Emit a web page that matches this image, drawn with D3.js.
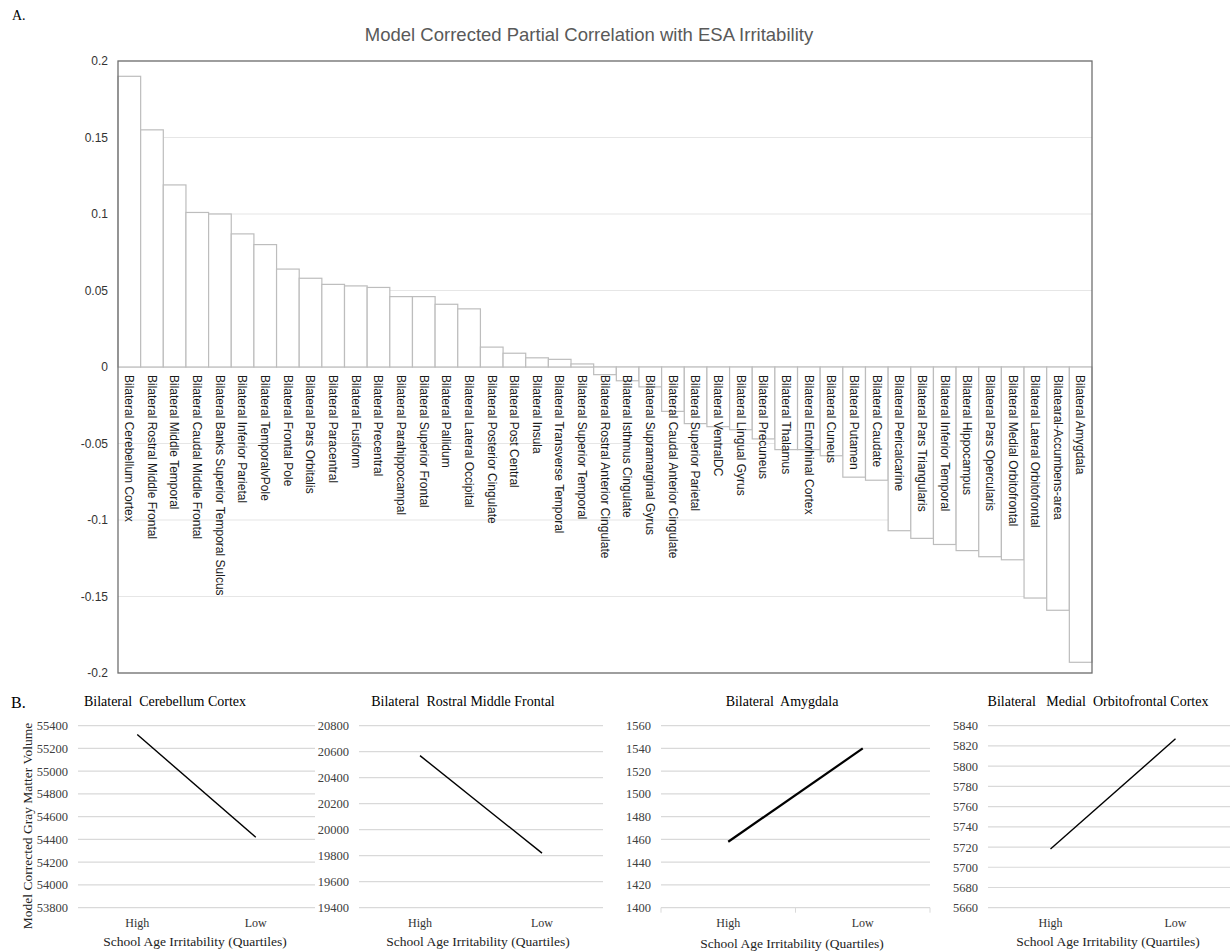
<!DOCTYPE html>
<html>
<head>
<meta charset="utf-8">
<script src="https://cdn.jsdelivr.net/npm/d3@7/dist/d3.min.js"></script>
<style>
  body { margin: 0; background: #fff; }
  svg { display: block; }
</style>
</head>
<body>
<svg id="chart" width="1230" height="951"></svg>
<script>
// panel A data
var regions = ["Bilateral Cerebellum Cortex", "Bilateral Rostral Middle Frontal", "Bilateral Middle Temporal",
    "Bilateral Caudal Middle Frontal", "Bilateral Banks Superior Temporal Sulcus", "Bilateral Inferior Parietal",
    "Bilateral TemporalvPole", "Bilateral Frontal Pole", "Bilateral Pars Orbitalis", "Bilateral Paracentral",
    "Bilateral Fusiform", "Bilateral Precentral", "Bilateral Parahippocampal", "Bilateral Superior Frontal",
    "Bilateral Pallidum", "Bilateral Lateral Occipital", "Bilateral Posterior Cingulate", "Bilateral Post Central",
    "Bilateral Insula", "Bilateral Transverse Temporal", "Bilateral Superior Temporal",
    "Bilateral Rostral Anterior Cingulate", "Bilateral Isthmus Cingulate", "Bilateral Supramarginal Gyrus",
    "Bilateral Caudal Anterior Cingulate", "Bilateral Superior Parietal", "Bilateral VentralDC",
    "Bilateral Lingual Gyrus", "Bilateral Precuneus", "Bilateral Thalamus", "Bilateral Entorhinal Cortex",
    "Bilateral Cuneus", "Bilateral Putamen", "Bilateral Caudate", "Bilateral Pericalcarine",
    "Bilateral Pars Triangularis", "Bilateral Inferior Temporal", "Bilateral Hippocampus",
    "Bilateral Pars Opercularis", "Bilateral Medial Orbitofrontal", "Bilateral Lateral Orbitofrontal",
    "Bilatearal-Accumbens-area", "Bilateral Amygdala"];
var correlations = [0.190, 0.155, 0.119, 0.101, 0.100, 0.087, 0.080, 0.064, 0.058, 0.054,
    0.053, 0.052, 0.046, 0.046, 0.041, 0.038, 0.013, 0.009, 0.006, 0.005,
    0.002, -0.005, -0.009, -0.013, -0.029, -0.037, -0.039, -0.041, -0.047, -0.054,
    -0.054, -0.058, -0.072, -0.074, -0.107, -0.112, -0.116, -0.120, -0.124, -0.126,
    -0.151, -0.159, -0.193];
var corrTicks = [0.2, 0.15, 0.1, 0.05, 0, -0.05, -0.1, -0.15, -0.2];

// panel B data
var quartiles = ["High", "Low"];
var panelTitles = ["Bilateral  Cerebellum Cortex", "Bilateral  Rostral Middle Frontal",
    "Bilateral  Amygdala", "Bilateral   Medial  Orbitofrontal Cortex"];
var volumeHigh = [55322, 20570, 1458, 5718];
var volumeLow = [54420, 19820, 1540, 5827];
var volumeTicks = [
    [53800, 54000, 54200, 54400, 54600, 54800, 55000, 55200, 55400],
    [19400, 19600, 19800, 20000, 20200, 20400, 20600, 20800],
    [1400, 1420, 1440, 1460, 1480, 1500, 1520, 1540, 1560],
    [5660, 5680, 5700, 5720, 5740, 5760, 5780, 5800, 5820, 5840]
];

var svg = d3.select("#chart");
var sans = "'Liberation Sans', Arial, sans-serif";
var serif = "'Liberation Serif', 'Times New Roman', serif";

// ---------- A. bar chart ----------
var mA = {left: 118, right: 1092, top: 61, bottom: 673};

var x = d3.scaleBand().domain(regions).range([mA.left, mA.right]).padding(0);
var y = d3.scaleLinear().domain([-0.2, 0.2]).range([mA.bottom, mA.top]);

svg.append("text")
    .attr("x", 12).attr("y", 20)
    .style("font", "14px " + serif)
    .text("A.");

svg.append("text")
    .attr("x", 589).attr("y", 41)
    .attr("text-anchor", "middle")
    .style("font", "18.5px " + sans)
    .style("fill", "#595959")
    .text("Model Corrected Partial Correlation with ESA Irritability");

// grid
svg.append("g")
    .selectAll("line")
    .data(corrTicks)
    .enter().append("line")
    .attr("x1", mA.left).attr("x2", mA.right)
    .attr("y1", function(d) { return y(d); })
    .attr("y2", function(d) { return y(d); })
    .style("stroke", function(d) { return d === 0 ? "#d0d0d0" : "#e6e6e6"; })
    .style("stroke-width", 1.2);

var yAxis = svg.append("g")
    .attr("transform", "translate(" + mA.left + ",0)")
    .call(d3.axisLeft(y).tickValues(corrTicks).tickSize(0).tickPadding(10)
        .tickFormat(function(d) { return String(d); }));
yAxis.select(".domain").remove();
yAxis.selectAll("text")
    .style("font", "12px " + sans)
    .style("fill", "#333");

// bars
svg.append("g")
    .selectAll("rect")
    .data(correlations)
    .enter().append("rect")
    .attr("x", function(d, i) { return x(regions[i]); })
    .attr("width", x.bandwidth())
    .attr("y", function(d) { return y(Math.max(0, d)); })
    .attr("height", function(d) { return Math.abs(y(d) - y(0)); })
    .style("fill", "#fff")
    .style("stroke", "#bdbdbd")
    .style("stroke-width", 1.2);

// rotated category labels
svg.append("g")
    .selectAll("text")
    .data(regions)
    .enter().append("text")
    .attr("transform", function(d) {
        return "translate(" + (x(d) + x.bandwidth() / 2) + "," + (y(0) + 8) + ") rotate(90)";
    })
    .attr("dy", "0.35em")
    .style("font", "12px " + sans)
    .style("fill", "#1a1a1a")
    .text(function(d) { return d; });

// frame
svg.append("rect")
    .attr("x", mA.left).attr("y", mA.top)
    .attr("width", mA.right - mA.left).attr("height", mA.bottom - mA.top)
    .style("fill", "none")
    .style("stroke", "#707070")
    .style("stroke-width", 1.3);

// ---------- B. line panels ----------
svg.append("text")
    .attr("x", 11).attr("y", 708)
    .style("font", "16px " + serif)
    .text("B.");

var panelX = [[78, 315], [359, 603], [661, 930], [988, 1238]];
var titleX = [165, 463, 782, 1098];
var xTitleX = [195, 478, 792, 1108];
var xTitleY = [946, 946, 948, 946];
var lineW = [1.4, 1.4, 2.2, 1.4];
var yTop = 725.7, yBottom = 907.7;

panelTitles.forEach(function(title, p) {
    var ticks = volumeTicks[p];
    var px = d3.scaleBand().domain(quartiles).range(panelX[p]);
    var py = d3.scaleLinear().domain(d3.extent(ticks)).range([yBottom, yTop]);
    var g = svg.append("g");

    g.append("text")
        .attr("x", titleX[p]).attr("y", 706)
        .attr("text-anchor", "middle")
        .style("font", "14px " + serif)
        .style("white-space", "pre")
        .attr("xml:space", "preserve")
        .text(title);

    g.selectAll(".grid")
        .data(ticks)
        .enter().append("line")
        .attr("x1", panelX[p][0]).attr("x2", panelX[p][1])
        .attr("y1", function(d) { return py(d); })
        .attr("y2", function(d) { return py(d); })
        .style("stroke", "#d9d9d9")
        .style("stroke-width", 1.2);

    var ax = g.append("g")
        .attr("transform", "translate(" + (panelX[p][0] - 10) + ",0)")
        .call(d3.axisLeft(py).tickValues(ticks).tickSize(0).tickPadding(0)
            .tickFormat(d3.format("d")));
    ax.select(".domain").remove();
    ax.selectAll("text")
        .style("font", "12.5px " + serif)
        .style("fill", "#404040");

    if (p === 2) {
        g.selectAll(".xt")
            .data([panelX[p][0], px("Low"), panelX[p][1]])
            .enter().append("line")
            .attr("x1", function(d) { return d; })
            .attr("x2", function(d) { return d; })
            .attr("y1", yBottom).attr("y2", yBottom + 5)
            .style("stroke", "#d9d9d9");
    }

    g.selectAll(".cat")
        .data(quartiles)
        .enter().append("text")
        .attr("x", function(d) { return px(d) + px.bandwidth() / 2; })
        .attr("y", 927)
        .attr("text-anchor", "middle")
        .style("font", "12px " + serif)
        .style("fill", "#333")
        .text(function(d) { return d; });

    g.append("text")
        .attr("x", xTitleX[p]).attr("y", xTitleY[p])
        .attr("text-anchor", "middle")
        .style("font", "13.5px " + serif)
        .style("fill", "#222")
        .text("School Age Irritability (Quartiles)");

    var line = d3.line()
        .x(function(d) { return px(d.q) + px.bandwidth() / 2; })
        .y(function(d) { return py(d.v); });
    g.append("path")
        .datum([{q: "High", v: volumeHigh[p]}, {q: "Low", v: volumeLow[p]}])
        .attr("d", line)
        .style("fill", "none")
        .style("stroke", "#000")
        .style("stroke-width", lineW[p]);
});

svg.append("text")
    .attr("transform", "translate(32,826) rotate(-90)")
    .attr("text-anchor", "middle")
    .style("font", "13.5px " + serif)
    .style("fill", "#222")
    .text("Model Corrected Gray Matter Volume");
</script>
</body>
</html>
